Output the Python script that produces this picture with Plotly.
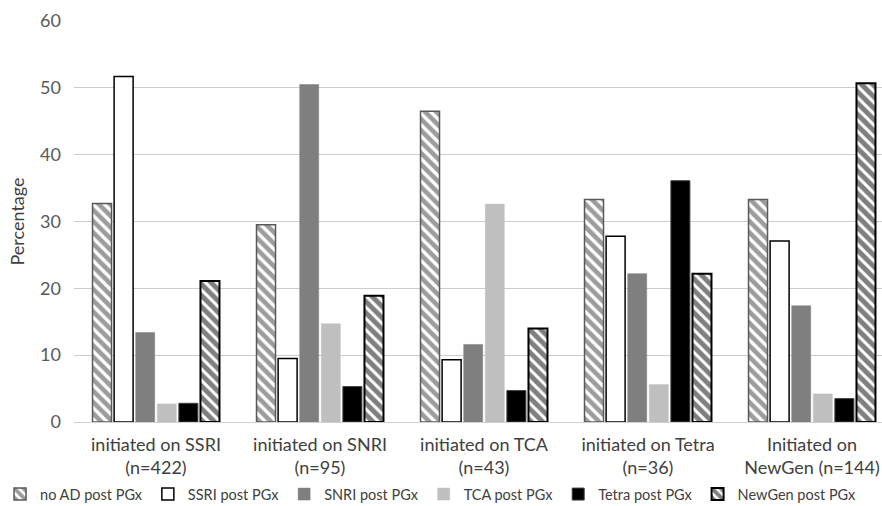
import plotly.graph_objects as go

categories = ["initiated on SSRI<br>(n=422)", "initiated on SNRI<br>(n=95)",
              "initiated on TCA<br>(n=43)", "initiated on Tetra<br>(n=36)",
              "Initiated on<br>NewGen (n=144)"]
no_ad = [32.7, 29.5, 46.5, 33.3, 33.3]
ssri = [51.7, 9.5, 9.3, 27.8, 27.1]
snri = [13.4, 50.5, 11.6, 22.2, 17.4]
tca = [2.7, 14.7, 32.6, 5.6, 4.2]
tetra = [2.8, 5.3, 4.7, 36.1, 3.5]
newgen = [21.1, 18.9, 14.0, 22.2, 50.7]
y_ticks = [0, 10, 20, 30, 40, 50, 60]

FONT = "Lato, Carlito, Calibri, sans-serif"

fig = go.Figure()
fig.add_trace(go.Bar(name="no AD post PGx", x=categories, y=no_ad,
                     marker=dict(color="white",
                                 pattern=dict(shape="\\", fgcolor="#3a3a3a", bgcolor="white",
                                              size=8, solidity=0.58),
                                 line=dict(color="#595959", width=1.5))))
fig.add_trace(go.Bar(name="SSRI post PGx", x=categories, y=ssri,
                     marker=dict(color="white", line=dict(color="black", width=1.5))))
fig.add_trace(go.Bar(name="SNRI post PGx", x=categories, y=snri,
                     marker=dict(color="#7f7f7f", line=dict(color="#7f7f7f", width=0.5))))
fig.add_trace(go.Bar(name="TCA post PGx", x=categories, y=tca,
                     marker=dict(color="#bfbfbf", line=dict(color="#bfbfbf", width=0.5))))
fig.add_trace(go.Bar(name="Tetra post PGx", x=categories, y=tetra,
                     marker=dict(color="black", line=dict(color="#404040", width=1))))
fig.add_trace(go.Bar(name="NewGen post PGx", x=categories, y=newgen,
                     marker=dict(color="white",
                                 pattern=dict(shape="\\", fgcolor="black", bgcolor="white",
                                              size=8, solidity=0.62),
                                 line=dict(color="black", width=2))))

fig.update_layout(
    width=894, height=506,
    margin=dict(l=74, r=0, t=21, b=84, autoexpand=False),
    paper_bgcolor="white", plot_bgcolor="white",
    barmode="group", bargap=0.21, bargroupgap=0.12,
    font=dict(family=FONT, color="#404040"),
    legend=dict(orientation="h", x=-0.0902, xanchor="left", y=-0.14, yanchor="top",
                font=dict(size=14.5, color="#404040"), itemwidth=30,
                traceorder="normal", tracegroupgap=0),
    xaxis=dict(showline=True, linecolor="#d0d0d0", linewidth=1, automargin=False,
               tickfont=dict(size=18, color="#404040"), ticks="", ticklabelstandoff=6),
    yaxis=dict(range=[0, 60], tickvals=y_ticks, showgrid=True, gridcolor="#cccccc",
               gridwidth=1, zeroline=False, ticks="", automargin=False,
               tickfont=dict(size=18, color="#595959"), ticklabelstandoff=12,
               title=dict(text="Percentage", font=dict(size=18, color="#404040"), standoff=10)),
)

fig.write_html("out.html", config={"displayModeBar": False},
               post_script="document.body.style.margin='0';document.body.style.overflow='hidden';")
